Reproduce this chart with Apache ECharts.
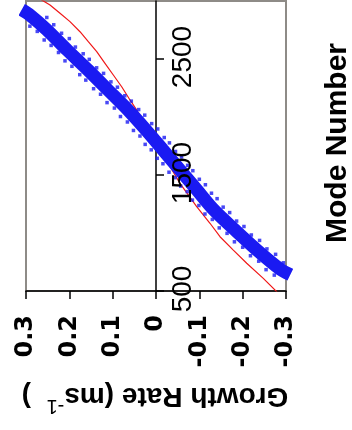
<!DOCTYPE html>
<html>
<head>
<meta charset="utf-8">
<script src="https://cdn.jsdelivr.net/npm/echarts@6/dist/echarts.min.js"></script>
<style>
html,body{margin:0;padding:0;background:#fff;}
#c{width:352px;height:430px;}
</style>
</head>
<body>
<div id="c"></div>
<script>
// ---- data ----
const growthTicks = [-0.3, -0.2, -0.1, 0, 0.1, 0.2, 0.3];
const modeTicks = [500, 1500, 2500];
const modeTickLabels = ['500', '1500', '2500'];
const growthMin = -0.3, growthMax = 0.3;
const modeMin = 500, modeMax = 3000;

// red model curve: growth rate vs mode number
const redRate = [0.275, 0.2638, 0.2446, 0.2215, 0.1985, 0.1754, 0.1562, 0.1368, 0.1177, 0.0985, 0.0792, 0.060, 0.0445, 0.0293, 0.0023, -0.0208, -0.0554, -0.0939, -0.1246, -0.1477, -0.1784, -0.2093, -0.2476, -0.2785, -0.282];
const redMode = [3060, 3009, 2966, 2894, 2822, 2735, 2649, 2563, 2463, 2362, 2261, 2147, 2060, 1960, 1802, 1647, 1428, 1227, 1084, 968, 853, 739, 609, 494, 470];

// blue measured points: centre of the dense band
const blueRate = [0.31, 0.293, 0.2515, 0.2054, 0.1569, 0.1108, 0.0646, 0.0231, -0.0162, -0.0554, -0.0946, -0.1338, -0.1823, -0.2331, -0.286, -0.31];
const blueMode = [2925, 2885, 2750, 2578, 2405, 2233, 2060, 1888, 1716, 1543, 1371, 1198, 1026, 853, 690, 640];

// blue measured points: scattered points along the band edges
const edgeRate = [0.252, 0.291, 0.236, 0.274, 0.218, 0.258, 0.200, 0.242, 0.186, 0.225, 0.168, 0.210, 0.154, 0.194, 0.137, 0.176, 0.121, 0.162, 0.104, 0.144, 0.089, 0.128, 0.072, 0.113, 0.057, 0.096, 0.040, 0.082, 0.026, 0.066, 0.010, 0.052, -0.004, 0.037, -0.019, 0.025, -0.031, 0.011, -0.045, -0.003, -0.059, -0.016, -0.073, -0.030, -0.085, -0.044, -0.100, -0.057, -0.114, -0.072, -0.128, -0.084, -0.141, -0.099, -0.155, -0.113, -0.170, -0.130, -0.186, -0.146, -0.203, -0.164, -0.220, -0.181, -0.239, -0.200, -0.256, -0.218, -0.276, -0.237, -0.294, -0.254, -0.273];
const edgeMode = [2858, 2783, 2795, 2738, 2722, 2664, 2676, 2617, 2603, 2556, 2545, 2484, 2497, 2437, 2424, 2365, 2376, 2318, 2303, 2244, 2257, 2196, 2183, 2124, 2137, 2077, 2064, 2004, 2016, 1957, 1943, 1884, 1897, 1836, 1823, 1764, 1777, 1717, 1703, 1644, 1656, 1597, 1583, 1524, 1537, 1477, 1463, 1404, 1416, 1357, 1343, 1284, 1296, 1237, 1223, 1164, 1176, 1117, 1103, 1044, 1056, 997, 983, 924, 936, 877, 863, 804, 816, 757, 743, 684, 637];

const xTitle = 'Growth Rate (ms';
const xTitleSup = '-1';
const yTitle = 'Mode Number';

// ---- build ----
const pair = (a, b) => a.map((v, i) => [v, b[i]]);

const chart = echarts.init(document.getElementById('c'), null, {renderer: 'canvas'});
chart.setOption({
  animation: false,
  backgroundColor: '#ffffff',
  grid: {
    left: 26, right: 66, top: 1, bottom: 139,
    show: true, borderColor: '#8e8b87', borderWidth: 2, backgroundColor: 'transparent'
  },
  xAxis: {
    type: 'value', position: 'bottom', inverse: true,
    min: growthMin, max: growthMax,
    axisLine: {onZero: false, lineStyle: {color: '#000', width: 1.5}},
    axisTick: {show: true, length: 8, customValues: growthTicks, lineStyle: {color: '#000', width: 1.5}},
    axisLabel: {
      customValues: growthTicks, rotate: 90, margin: 24,
      fontFamily: 'DejaVu Sans', fontWeight: 'bold', fontSize: 24, color: '#000'
    },
    splitLine: {show: false}
  },
  yAxis: {
    type: 'value', position: 'right',
    min: modeMin, max: modeMax,
    axisLine: {show: true, onZero: true, lineStyle: {color: '#000', width: 1.5}},
    axisTick: {show: true, inside: false, length: 8, customValues: modeTicks, lineStyle: {color: '#000', width: 1.5}},
    axisLabel: {show: false},
    splitLine: {show: false}
  },
  series: [
    {
      type: 'line', data: pair(redRate, redMode), z: 1,
      showSymbol: false, symbol: 'none', clip: true,
      lineStyle: {color: '#f01818', width: 1.2}
    },
    {
      type: 'line', data: pair(blueRate, blueMode), z: 2,
      showSymbol: false, symbol: 'none', clip: true, smooth: 0.3,
      lineStyle: {color: '#1a1af2', width: 13, cap: 'butt'}
    },
    {
      type: 'scatter', data: pair(edgeRate, edgeMode), z: 3, clip: true,
      symbol: 'rect', symbolSize: 3.5,
      itemStyle: {color: '#1a1af2'}
    }
  ]
});

// titles, and mode-number tick labels placed beside the zero line using the chart's own scales
const graphics = [
  {
    type: 'text', x: 338, y: 143, rotation: Math.PI / 2,
    style: {
      text: yTitle, align: 'center', verticalAlign: 'middle',
      fontFamily: 'Liberation Sans', fontWeight: 'bold', fontSize: 30, fill: '#000'
    }
  },
  {
    type: 'text', x: 155, y: 399, rotation: Math.PI,
    style: {
      text: '{a|' + xTitle + '}{b|' + xTitleSup + '}{a|  )}',
      align: 'center', verticalAlign: 'middle',
      rich: {
        a: {fontFamily: 'Liberation Sans', fontWeight: 'bold', fontSize: 28, fill: '#000', lineHeight: 34, verticalAlign: 'bottom'},
        b: {fontFamily: 'Liberation Sans', fontWeight: 'normal', fontSize: 20, fill: '#000', lineHeight: 34, verticalAlign: 'top'}
      }
    }
  }
];
modeTicks.forEach((v, i) => {
  const p = chart.convertToPixel({gridIndex: 0}, [0, v]);
  graphics.push({
    type: 'text', x: p[0] + 27, y: p[1] - 2, rotation: Math.PI / 2, z: 100,
    style: {
      text: modeTickLabels[i], align: 'center', verticalAlign: 'middle',
      fontFamily: 'Liberation Sans', fontSize: 28, fill: '#000'
    }
  });
});
chart.setOption({graphic: graphics});
</script>
</body>
</html>
